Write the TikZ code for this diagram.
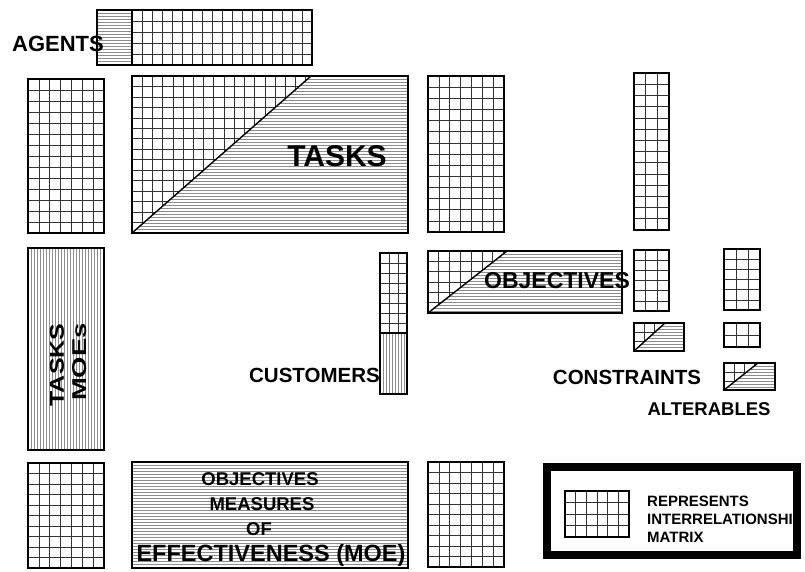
\documentclass[tikz,border=0pt]{standalone}
\usepackage{fontspec}
\setmainfont{Liberation Sans}
\newcommand\fsz[1]{\fontsize{#1}{#1}\selectfont\bfseries}
% grid: x1 y1 x2 y2 ncols nrows
\newcommand\mgrid[6]{%
  \foreach \k in {1,...,#5}{\draw[gridl] ({#1+(#3-#1)*\k/#5},#2) -- ({#1+(#3-#1)*\k/#5},#4);}
  \foreach \k in {1,...,#6}{\draw[gridl] (#1,{#2+(#4-#2)*\k/#6}) -- (#3,{#2+(#4-#2)*\k/#6});}
}
% horizontal stripes
\newcommand\hstripes[4]{%
  \pgfmathtruncatemacro\nst{(#4-#2)/3}
  \foreach \k in {1,...,\nst}{\draw[stripe] (#1,{#2+3*\k}) -- (#3,{#2+3*\k});}
}
% vertical stripes
\newcommand\vstripes[4]{%
  \pgfmathtruncatemacro\nst{(#3-#1)/3}
  \foreach \k in {1,...,\nst}{\draw[stripe] ({#1+3*\k},#2) -- ({#1+3*\k},#4);}
}
% grid box
\newcommand\gbox[6]{%
  \mgrid{#1}{#2}{#3}{#4}{#5}{#6}
  \draw[box] (#1,#2) rectangle (#3,#4);
}
% diagonal box: x1 y1 x2 y2 xdiag ncols nrows
\newcommand\dbox[7]{%
  \begin{scope}
    \clip (#1,#2) -- (#5,#2) -- (#1,#4) -- cycle;
    \mgrid{#1}{#2}{#3}{#4}{#6}{#7}
  \end{scope}
  \begin{scope}
    \clip (#5,#2) -- (#3,#2) -- (#3,#4) -- (#1,#4) -- cycle;
    \hstripes{#1}{#2}{#3}{#4}
  \end{scope}
  \draw[diag] (#1,#4) -- (#5,#2);
  \draw[box] (#1,#2) rectangle (#3,#4);
}
\begin{document}
\begin{tikzpicture}[x=1pt, y=-1pt,
  box/.style={draw=black, line width=1.6pt},
  diag/.style={draw=black, line width=1.4pt},
  gridl/.style={draw=black!80, line width=0.65pt},
  stripe/.style={draw=black!45, line width=0.5pt},
  lbl/.style={inner sep=0pt, text=black}]
\fill[white] (0,0) rectangle (805,571);
\useasboundingbox (0,0) rectangle (805,571);

% ---- AGENTS strip
\begin{scope}
  \clip (97,10) rectangle (132,65);
  \hstripes{97}{10}{132}{65}
\end{scope}
\mgrid{132}{10}{312}{65}{18}{5}
\draw[box] (97,10) rectangle (312,65);
\draw[box] (132,10) -- (132,65);
\node[lbl, font=\fsz{22}] (agents) at (58,44) {AGENTS};

% ---- top row
\gbox{28}{79}{104}{233}{7}{14}
\dbox{132}{76}{408}{233}{311}{27}{15}
\node[lbl, font=\fsz{30}] (tasks) at (337,156) {TASKS};
\gbox{428}{76}{504}{232}{7}{14}
\gbox{634}{73}{669}{230}{3}{14}

% ---- TASKS MOEs
\begin{scope}
  \clip (28,248) rectangle (104,450);
  \vstripes{28}{248}{104}{450}
\end{scope}
\draw[box] (28,248) rectangle (104,450);
\node[lbl, font=\fsz{20}, rotate=90, xscale=1.25] (tmoe1) at (57,365) {TASKS};
\node[lbl, font=\fsz{20}, rotate=90, xscale=1.37] (tmoe2) at (80,362) {MOEs};

% ---- customers
\mgrid{380}{253}{407}{333}{3}{8}
\begin{scope}
  \clip (380,333) rectangle (407,394);
  \vstripes{380}{333}{407}{394}
\end{scope}
\draw[box] (380,253) rectangle (407,394);
\draw[box] (380,333) -- (407,333);
\node[lbl, font=\fsz{20.5}, anchor=east] (customers) at (380,375) {CUSTOMERS};

% ---- objectives
\dbox{428}{251}{622}{313}{507}{18}{6}
\node[lbl, font=\fsz{23}] (objectives) at (557,281) {OBJECTIVES};
\gbox{634}{250}{669}{311}{3}{6}
\gbox{724}{249}{760}{310}{3}{6}
\dbox{634}{323}{684}{351}{665}{5}{3}
\gbox{724}{323}{760}{347}{3}{2}
\dbox{724}{363}{775}{390}{758}{5}{3}
\node[lbl, font=\fsz{20.5}] (constraints) at (627,377) {CONSTRAINTS};
\node[lbl, font=\fsz{18.5}] (alterables) at (709,409) {ALTERABLES};

% ---- bottom row
\gbox{28}{463}{104}{568}{7}{10}
\begin{scope}
  \clip (132,462) rectangle (408,568);
  \hstripes{132}{462}{408}{568}
\end{scope}
\draw[box] (132,462) rectangle (408,568);
\node[lbl, font=\fsz{18.5}] (moe1) at (260,479) {OBJECTIVES};
\node[lbl, font=\fsz{18.5}] (moe2) at (262,504) {MEASURES};
\node[lbl, font=\fsz{18.5}] (moe3) at (259,529) {OF};
\node[lbl, font=\fsz{23.5}] (moe4) at (271,555) {EFFECTIVENESS (MOE)};
\gbox{428}{462}{504}{567}{7}{10}

% ---- legend
\begin{scope}
  \clip (551,471) rectangle (792,550);
  \node[lbl, font=\fsz{15}, anchor=west] (leg1) at (647,501) {REPRESENTS};
  \node[lbl, font=\fsz{15}, anchor=west] (leg2) at (647,519) {INTERRELATIONSHIP};
  \node[lbl, font=\fsz{15}, anchor=west] (leg3) at (647,537) {MATRIX};
\end{scope}
\gbox{565}{491}{629}{537}{6}{4}
\draw[draw=black, line width=8pt] (547,467) rectangle (797,555);
\end{tikzpicture}
\end{document}
